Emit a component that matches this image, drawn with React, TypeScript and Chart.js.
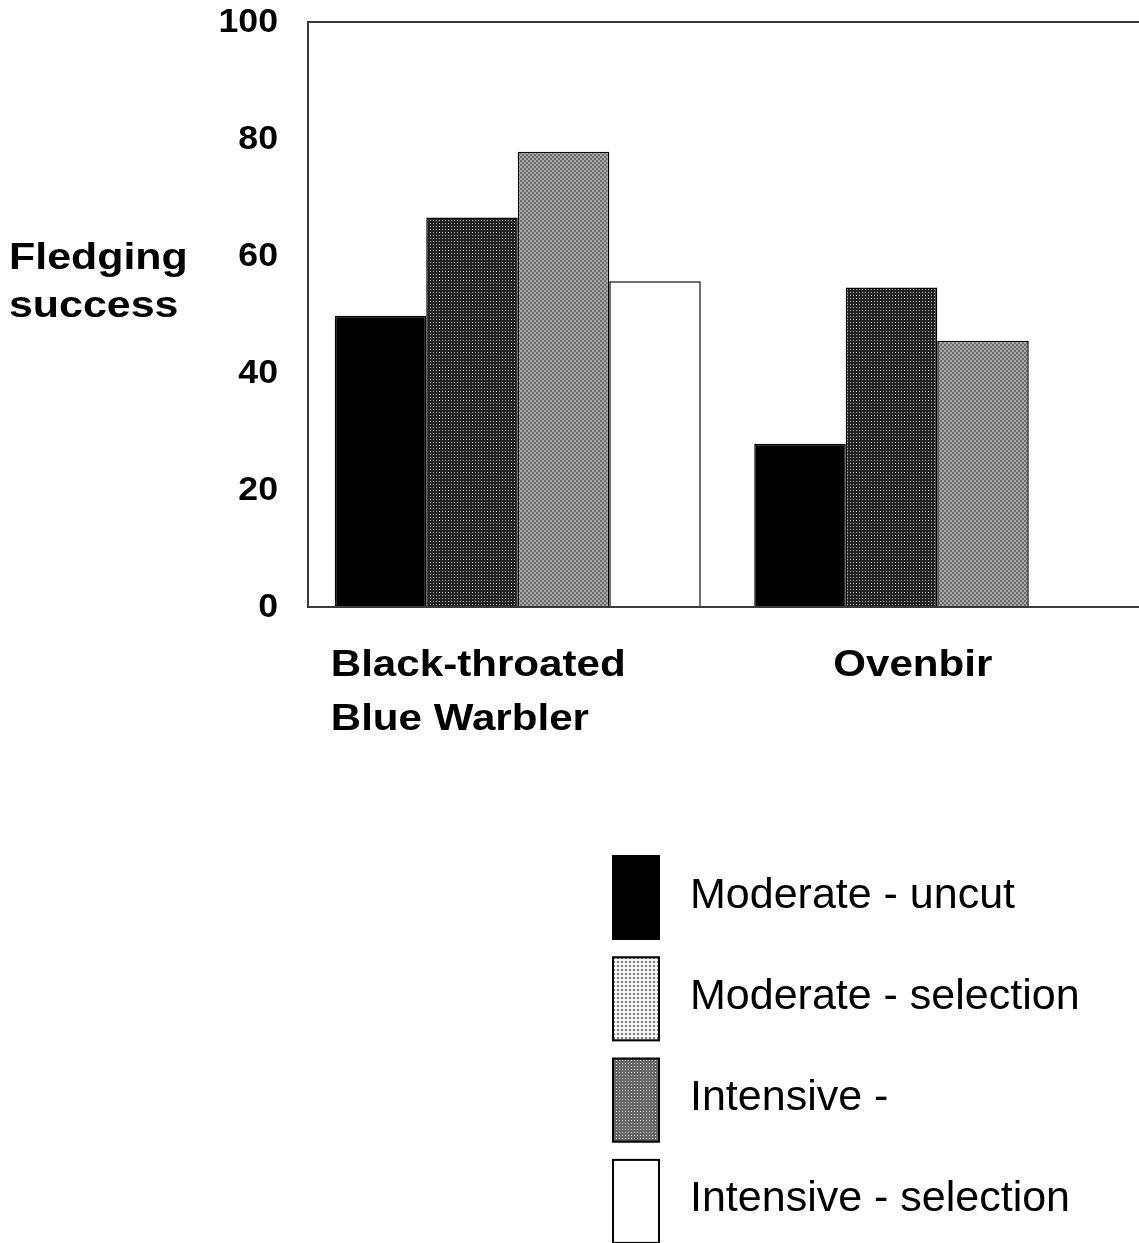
import { useEffect, useRef } from 'react';
import { Chart, registerables } from 'chart.js';

Chart.register(...registerables);

const categories: string[][] = [['Black-throated', 'Blue Warbler'], ['Ovenbir']];
const seriesLabels = ['Moderate - uncut', 'Moderate - selection', 'Intensive -', 'Intensive - selection'];
const moderateUncut = [49.8, 27.9];
const moderateSelection = [66.6, 54.6];
const intensive = [77.8, 45.5];
const intensiveSelection: (number | null)[] = [55.7, null];
const yTicks = [0, 20, 40, 60, 80, 100];
const yTitle = ['Fledging', 'success'];

const FONT = '"Liberation Sans", Arial, sans-serif';

function makePattern(
  ctx: CanvasRenderingContext2D,
  size: number,
  bg: string,
  cells: [number, number, number, number, string][]
) {
  const c = document.createElement('canvas');
  c.width = size;
  c.height = size;
  const g = c.getContext('2d')!;
  g.fillStyle = bg;
  g.fillRect(0, 0, size, size);
  cells.forEach(([x, y, w, h, col]) => {
    g.fillStyle = col;
    g.fillRect(x, y, w, h);
  });
  return ctx.createPattern(c, 'repeat')!;
}

function drawScaled(
  ctx: CanvasRenderingContext2D,
  text: string,
  x: number,
  y: number,
  sx: number,
  align: CanvasTextAlign
) {
  ctx.save();
  ctx.translate(x, y);
  ctx.scale(sx, 1);
  ctx.textAlign = align;
  ctx.fillText(text, 0, 0);
  ctx.restore();
}

export default function App() {
  const ref = useRef<HTMLCanvasElement | null>(null);

  useEffect(() => {
    document.body.style.margin = '0';
    document.body.style.overflow = 'hidden';
    const canvas = ref.current!;
    const ctx = canvas.getContext('2d')!;

    const darkPat = makePattern(ctx, 3, '#222222', [[1, 1, 1, 1, '#b0b0b0']]);
    const medPat = makePattern(ctx, 4, '#6c6c6c', [
      [2, 0, 2, 2, '#a8a8a8'],
      [0, 2, 2, 2, '#a8a8a8'],
    ]);
    const lightSwatch = makePattern(ctx, 4, '#f2f2f2', [[1, 1, 2, 2, '#7a7a7a']]);
    const midSwatch = makePattern(ctx, 3, '#666666', [[1, 1, 1, 1, '#d4d4d4']]);

    const barFills: (string | CanvasPattern)[] = ['#000000', darkPat, medPat, '#ffffff'];
    const swatchFills: (string | CanvasPattern)[] = ['#000000', lightSwatch, midSwatch, '#ffffff'];
    const seriesData = [moderateUncut, moderateSelection, intensive, intensiveSelection];

    const textPlugin = {
      id: 'customText',
      afterDraw(chart: any) {
        const c: CanvasRenderingContext2D = chart.ctx;
        const area = chart.chartArea;
        const ys = chart.scales.y;
        const xs = chart.scales.x;

        // axis frame
        c.save();
        c.strokeStyle = '#3a3a3a';
        c.lineWidth = 2;
        c.beginPath();
        c.moveTo(area.right + 20, area.top);
        c.lineTo(area.left, area.top);
        c.lineTo(area.left, area.bottom);
        c.lineTo(area.right + 20, area.bottom);
        c.stroke();
        c.restore();

        c.save();
        c.fillStyle = '#000';
        // y ticks
        c.font = `bold 33px ${FONT}`;
        c.textBaseline = 'middle';
        yTicks.forEach((v) => {
          drawScaled(c, String(v), area.left - 30, ys.getPixelForValue(v) + 1, 1.08, 'right');
        });

        // y title
        c.font = `bold 37px ${FONT}`;
        c.textBaseline = 'alphabetic';
        yTitle.forEach((t, i) => {
          drawScaled(c, t, 9, 269 + i * 48, 1.16, 'left');
        });

        // x labels
        c.font = `bold 36px ${FONT}`;
        const offsets = [-187, -104];
        categories.forEach((lines, i) => {
          const px = xs.getPixelForValue(i);
          lines.forEach((t, j) => {
            drawScaled(c, t, px + offsets[i], area.bottom + 69 + j * 54, 1.17, 'left');
          });
        });

        // legend
        c.font = `43px ${FONT}`;
        seriesLabels.forEach((lab, i) => {
          const top = 855 + i * 101.3;
          c.fillStyle = swatchFills[i] as any;
          c.fillRect(612, top, 48, 85);
          c.strokeStyle = '#000';
          c.lineWidth = 2;
          c.strokeRect(613, top + 1, 46, 83);
          c.fillStyle = '#000';
          c.textAlign = 'left';
          c.fillText(lab, 690, top + 42.5 + 10);
        });
        c.restore();
      },
    };

    const chart = new Chart(canvas, {
      type: 'bar',
      data: {
        labels: categories.map((l) => l.join(' ')),
        datasets: seriesLabels.map((label, i) => ({
          label,
          data: seriesData[i] as any,
          backgroundColor: barFills[i] as any,
          borderColor: '#000000',
          borderWidth: 1.5,
          borderSkipped: 'bottom',
          categoryPercentage: 0.8725,
          barPercentage: 1,
        })),
      },
      options: {
        responsive: false,
        animation: false,
        devicePixelRatio: 1,
        layout: { padding: { left: 308, top: 22, right: 13, bottom: 636 } },
        plugins: {
          legend: { display: false },
          tooltip: { enabled: false },
          title: { display: false },
        },
        scales: {
          x: { display: false, offset: true },
          y: { display: false, min: 0, max: 100 },
        },
      },
      plugins: [textPlugin],
    });

    return () => chart.destroy();
  }, []);

  return (
    <div
      style={{
        position: 'absolute',
        left: 0,
        top: 0,
        width: 1139,
        height: 1243,
        overflow: 'hidden',
        background: '#fff',
      }}
    >
      <canvas ref={ref} width={1160} height={1243} style={{ display: 'block' }} />
    </div>
  );
}
